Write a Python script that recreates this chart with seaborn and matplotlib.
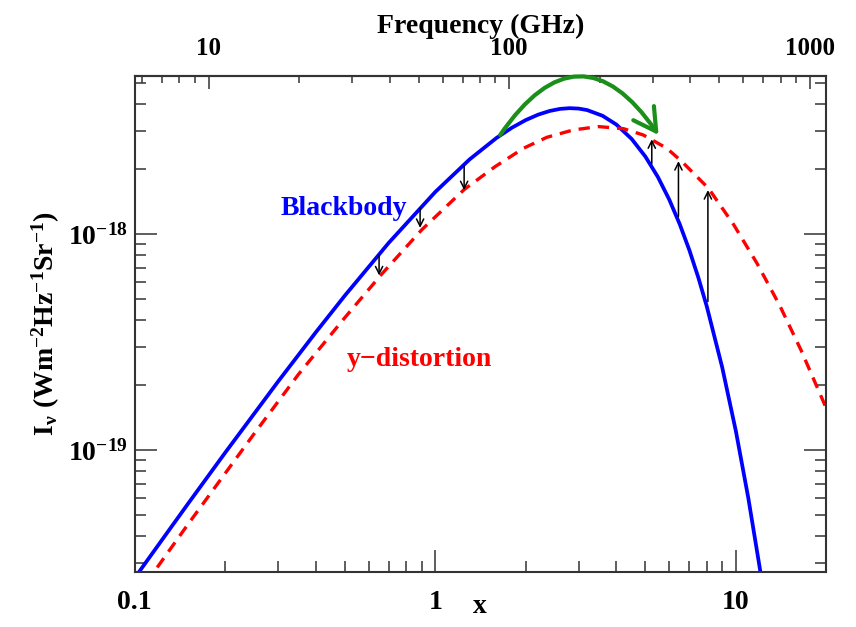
import numpy as np
import pandas as pd
import matplotlib
matplotlib.use("Agg")
import matplotlib.pyplot as plt
import seaborn as sns
from matplotlib.ticker import FixedLocator, FixedFormatter, LogLocator, NullFormatter

# ---------------- data ----------------
bb_x = [0.1, 0.15, 0.2, 0.3, 0.4, 0.5, 0.7, 1.0, 1.3, 1.6, 1.8, 2.0, 2.2, 2.4, 2.6,
        2.8, 3.0, 3.2, 3.6, 4.0, 4.5, 5.0, 5.5, 6.0, 6.5, 7.0, 7.5, 8.0, 9.0, 10.0,
        11.0, 12.0, 12.5]
bb_I = [2.565e-20, 5.626e-20, 9.75e-20, 2.082e-19, 3.510e-19, 5.198e-19, 9.127e-19,
        1.570e-18, 2.220e-18, 2.795e-18, 3.115e-18, 3.378e-18, 3.579e-18, 3.720e-18,
        3.804e-18, 3.834e-18, 3.816e-18, 3.756e-18, 3.535e-18, 3.221e-18, 2.761e-18,
        2.287e-18, 1.842e-18, 1.448e-18, 1.115e-18, 8.445e-19, 6.298e-19, 4.635e-19,
        2.427e-19, 1.2247e-19, 5.997e-20, 2.864e-20, 1.963e-20]

yd_x = [0.1, 0.15, 0.2, 0.25, 0.35, 0.5, 0.664, 0.902, 1.247, 1.581, 1.965, 2.35,
        2.88, 3.49, 4.23, 4.92, 5.89, 6.61, 8.11, 9.82, 11.75, 14.0, 16.5, 20.0]
yd_I = [2.05e-20, 4.52e-20, 7.82e-20, 1.196e-19, 2.24e-19, 4.11e-19, 6.55e-19,
        1.05e-18, 1.61e-18, 2.056e-18, 2.50e-18, 2.81e-18, 3.04e-18, 3.15e-18,
        3.08e-18, 2.88e-18, 2.50e-18, 2.17e-18, 1.63e-18, 1.11e-18, 7.34e-19,
        4.67e-19, 2.89e-19, 1.56e-19]

down_x = [0.650, 0.890, 1.247]
down_from = [8.0e-19, 1.32e-18, 2.07e-18]
down_to = [6.45e-19, 1.07e-18, 1.60e-18]

up_x = [5.25, 6.44, 8.07]
up_from = [2.12e-18, 1.21e-18, 4.88e-19]
up_to = [2.75e-18, 2.18e-18, 1.60e-18]

green_x = [1.643, 5.53]
green_I = [2.88e-18, 2.88e-18]

x_ticks = [0.1, 1, 10]
x_tick_labels = ["0.1", "1", "10"]
y_ticks = [1e-19, 1e-18]
y_tick_labels = [r"$10^{-19}$", r"$10^{-18}$"]
ghz_ticks = [10, 100, 1000]
ghz_tick_labels = ["10", "100", "1000"]
GHZ_PER_X = 56.78

# ---------------- style ----------------
sns.set_theme(style="white")
plt.rcParams.update({
    "font.family": ["Liberation Serif", "DejaVu Serif"],
    "font.weight": "bold",
    "mathtext.fontset": "custom",
    "mathtext.rm": "Liberation Serif:bold",
    "mathtext.bf": "Liberation Serif:bold",
    "mathtext.it": "Liberation Serif:bold",
    "mathtext.default": "rm",
    "axes.edgecolor": "#333333",
    "axes.linewidth": 1.5,
    "text.color": "black",
    "axes.labelcolor": "black",
    "xtick.color": "black",
    "ytick.color": "black",
    "xtick.labelcolor": "black",
    "ytick.labelcolor": "black",
})

fig = plt.figure(figsize=(8.56, 6.27), dpi=100)
ax = fig.add_axes([0.1574, 0.0882, 0.808, 0.7911])

bb_df = pd.DataFrame({"x": bb_x, "I": bb_I})
yd_df = pd.DataFrame({"x": yd_x, "I": yd_I})

sns.lineplot(data=bb_df, x="x", y="I", sort=False, color="#0000ff", lw=2.7, ax=ax)
sns.lineplot(data=yd_df, x="x", y="I", sort=False, color="#ff0000", lw=2.4,
             ls=(0, (3.4, 2.4)), ax=ax)

ax.set_xscale("log")
ax.set_yscale("log")
ax.set_xlim(0.1, 20)
ax.set_ylim(2.74e-20, 5.42e-18)

# arrows
for xx, a, b in zip(down_x, down_from, down_to):
    ax.annotate("", xy=(xx, b), xytext=(xx, a),
                arrowprops=dict(arrowstyle="->", lw=1.1, color="black",
                                shrinkA=0, shrinkB=0, mutation_scale=13))
for xx, a, b in zip(up_x, up_from, up_to):
    ax.annotate("", xy=(xx, b), xytext=(xx, a),
                arrowprops=dict(arrowstyle="->", lw=1.1, color="black",
                                shrinkA=0, shrinkB=0, mutation_scale=13))

ax.annotate("", xy=(green_x[1], green_I[1]), xytext=(green_x[0], green_I[0]),
            arrowprops=dict(arrowstyle="->,head_length=0.8,head_width=0.45",
                            lw=3.0, color="#1a8f1a", shrinkA=0, shrinkB=0,
                            mutation_scale=20,
                            connectionstyle="arc3,rad=-0.73"))

# labels in plot
ax.text(0.3026, 0.733, "Blackbody", color="#0000ff", fontsize=20,
        fontweight="bold", ha="center", va="center", transform=ax.transAxes)
ax.text(0.4111, 0.427, "y\u2212distortion", color="#ff0000", fontsize=20,
        fontweight="bold", ha="center", va="center", transform=ax.transAxes)

# ticks
ax.xaxis.set_major_locator(FixedLocator(x_ticks))
ax.xaxis.set_major_formatter(FixedFormatter(x_tick_labels))
ax.xaxis.set_minor_locator(LogLocator(base=10, subs=np.arange(2, 10)))
ax.xaxis.set_minor_formatter(NullFormatter())
ax.yaxis.set_major_locator(FixedLocator(y_ticks))
ax.yaxis.set_major_formatter(FixedFormatter(y_tick_labels))
ax.yaxis.set_minor_locator(LogLocator(base=10, subs=np.arange(2, 10)))
ax.yaxis.set_minor_formatter(NullFormatter())

ax.tick_params(which="both", direction="in", bottom=True, left=True, right=True,
               top=False, color="#333333", labelsize=20, labelcolor="black")
ax.tick_params(which="major", length=16, width=1.1)
ax.tick_params(which="minor", length=8, width=1.1)
ax.tick_params(axis="x", which="major", pad=13)
ax.tick_params(axis="y", which="major", pad=5)

ax.set_xlabel("x", fontsize=20, fontweight="bold", color="black")
ax.xaxis.set_label_coords(0.499, -0.045)
ax.set_ylabel(r"$I_{\nu}\ (Wm^{-2}Hz^{-1}Sr^{-1})$", fontsize=20, color="black")
ax.yaxis.set_label_coords(-0.105, 0.5)

# top frequency axis
secax = ax.secondary_xaxis("top", functions=(lambda v: v * GHZ_PER_X,
                                              lambda f: f / GHZ_PER_X))
secax.xaxis.set_major_locator(FixedLocator(ghz_ticks))
secax.xaxis.set_major_formatter(FixedFormatter(ghz_tick_labels))
secax.xaxis.set_minor_locator(LogLocator(base=10, subs=np.arange(2, 10)))
secax.xaxis.set_minor_formatter(NullFormatter())
secax.tick_params(which="both", direction="in", color="#333333", labelsize=18,
                  labelcolor="black")
secax.tick_params(which="major", length=9, width=1.1, pad=11)
secax.tick_params(which="minor", length=5, width=1.1)
secax.set_xlabel("Frequency (GHz)", fontsize=20, fontweight="bold", labelpad=3,
                 color="black")
secax.spines["top"].set_linewidth(1.5)
secax.spines["top"].set_color("#333333")

fig.savefig("out.png", dpi=100)
